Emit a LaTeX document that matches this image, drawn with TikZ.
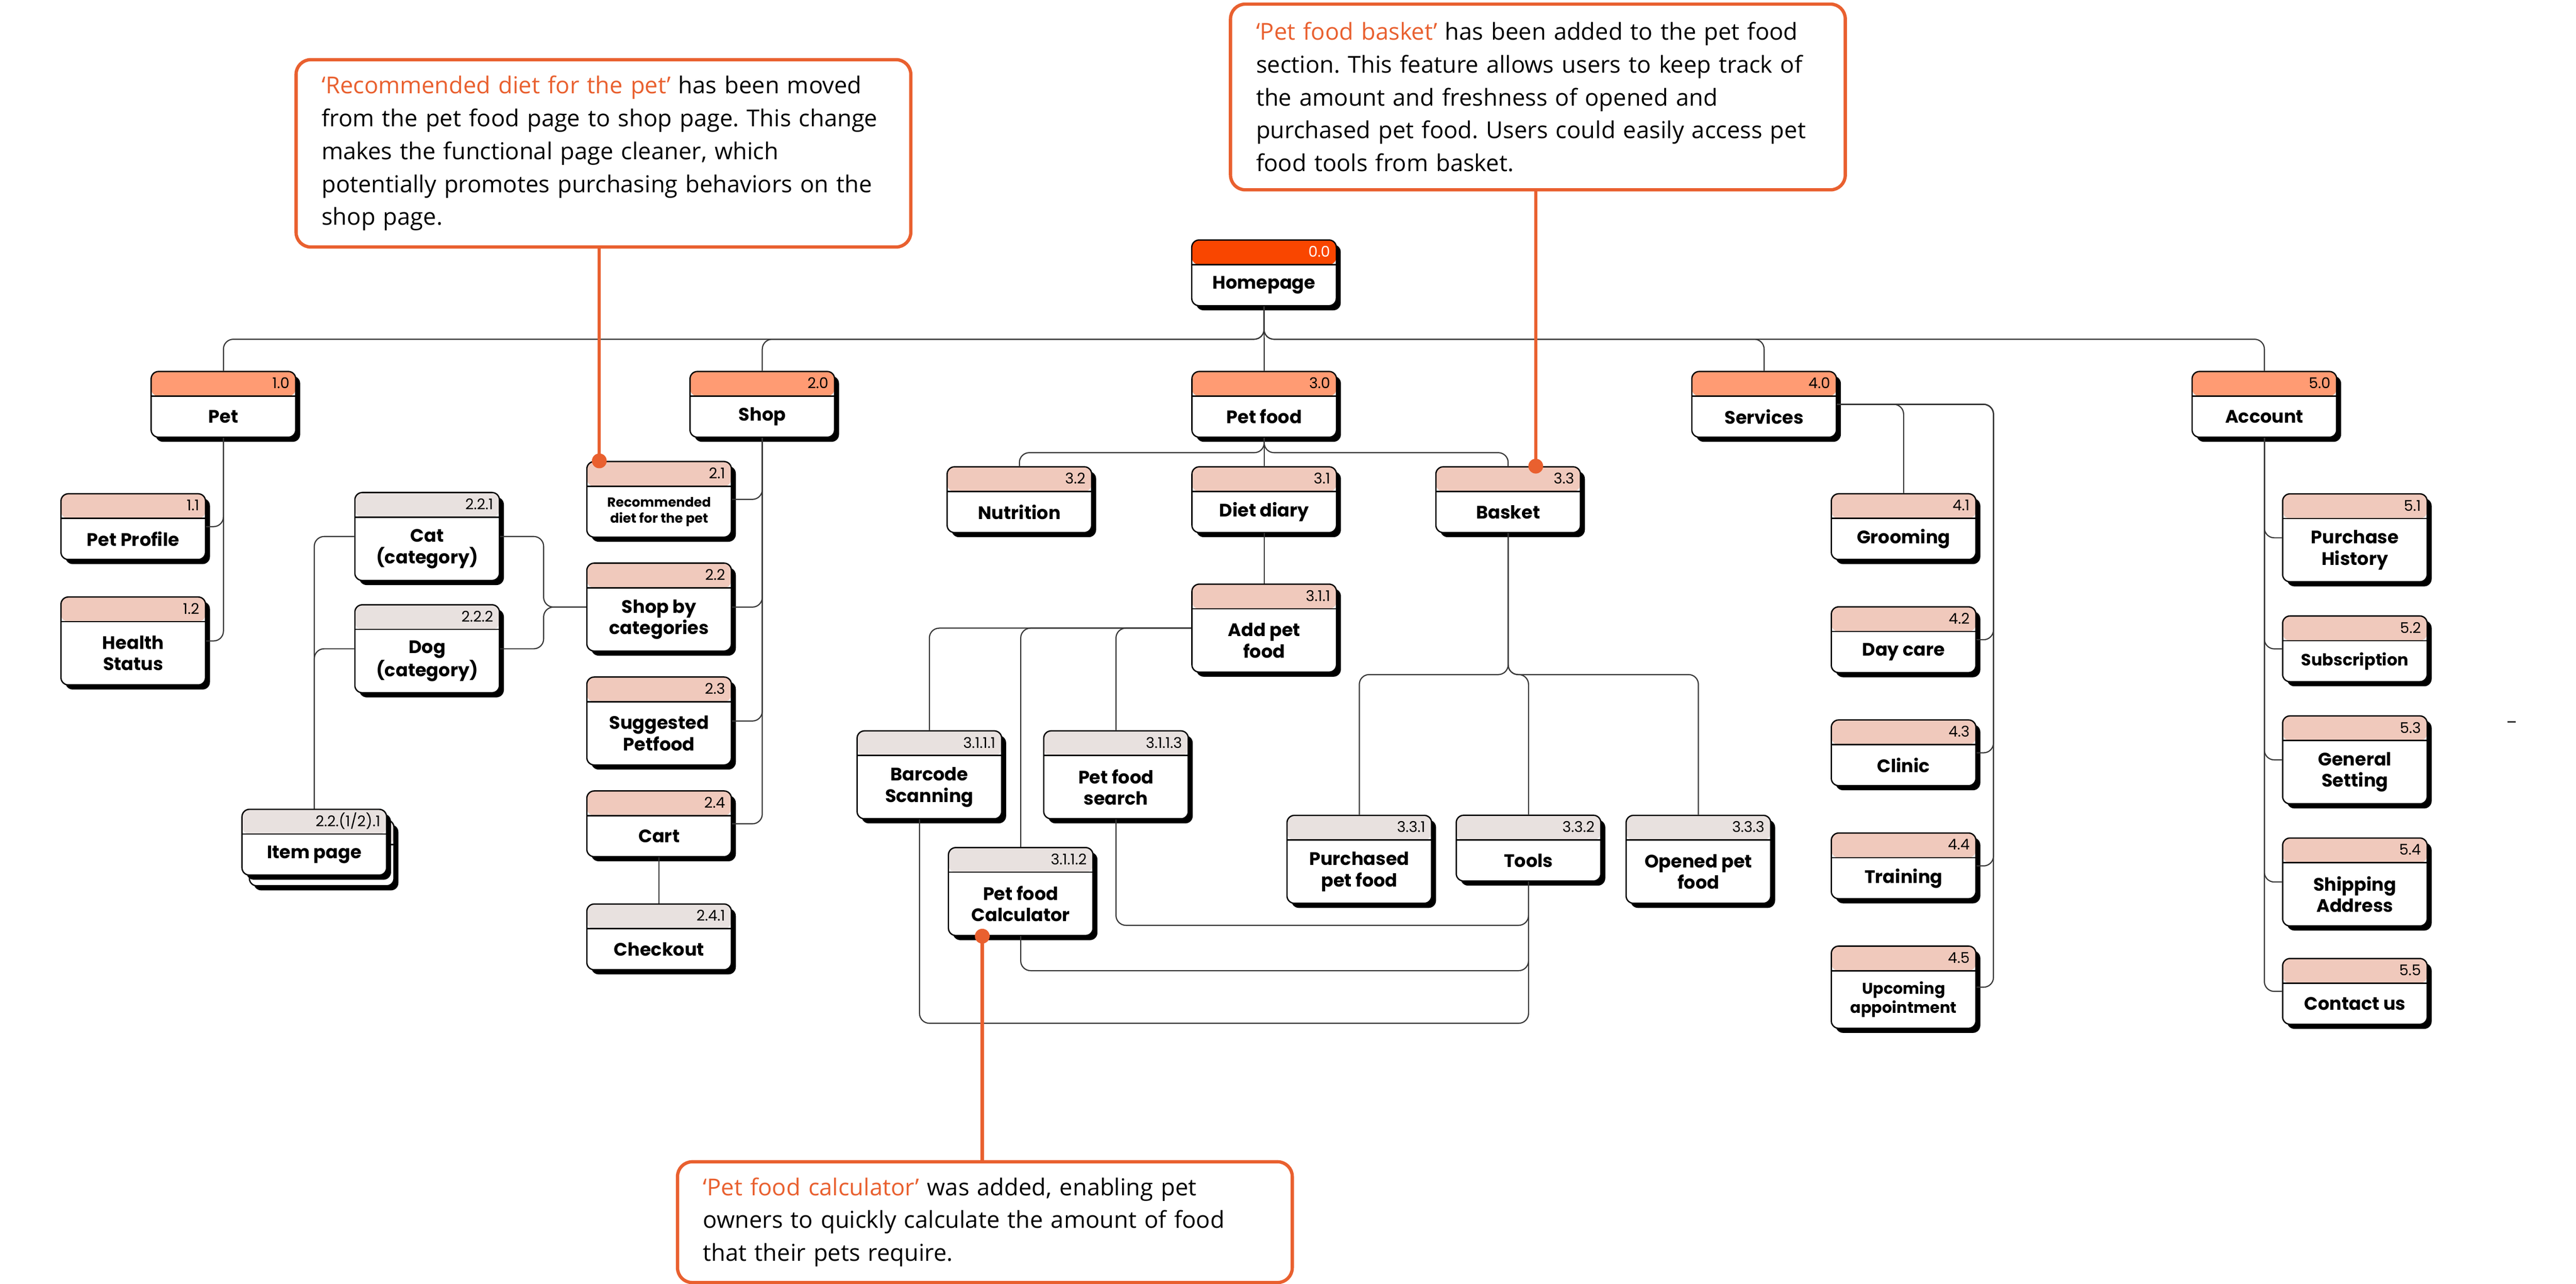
\documentclass[tikz,border=0pt]{standalone}
\usepackage{fontspec}
\setmainfont{Poppins}
\newfontfamily\notefamily{Open Sans}
\usetikzlibrary{positioning, shadows}
\definecolor{HomeRed}{RGB}{249,70,0}
\definecolor{LevelOne}{RGB}{255,155,115}
\definecolor{LevelTwo}{RGB}{240,201,188}
\definecolor{LevelThree}{RGB}{232,225,223}
\definecolor{NoteOrange}{RGB}{233,96,47}
\definecolor{LinkGray}{RGB}{55,55,55}

\newcommand{\cardfont}{\fontsize{11}{13}\selectfont\bfseries}
\newcommand{\smallcardfont}{\fontsize{8}{9.7}\selectfont\bfseries}
\newcommand{\midcardfont}{\fontsize{9.5}{11.5}\selectfont\bfseries}
\newcommand{\subcardfont}{\fontsize{10}{12}\selectfont\bfseries}
\newcommand{\numfont}{\fontsize{9}{10}\selectfont}
\newcommand{\notefont}{\notefamily\fontsize{14.2}{20}\selectfont\frenchspacing}
\newcommand{\notehl}[1]{\textcolor{NoteOrange}{#1}}

\tikzset{
  head/.style = {path picture = {%
    \fill [#1] (path picture bounding box.north west) rectangle ([yshift = -15pt]path picture bounding box.north east);%
    \draw [line width = 0.8pt] ([yshift = -15pt]path picture bounding box.north west) -- ([yshift = -15pt]path picture bounding box.north east);}},
}

% page card: [text options]{name}{card options}{number}{text}
\newcommand{\pagecard}[5][]{%
  \node [card, #3] (#2) {};%
  \node [cardtext, #1] (#2-t) at ([yshift = -7.5pt]#2.center) {#5};%
  \node [cardnum] (#2-n) at ([xshift = -4pt, yshift = -7.5pt]#2.north east) {#4};%
}

\begin{document}
\begin{tikzpicture}[x = 1pt, y = -1pt]%
    %
    \tikzstyle{card} = [rectangle, draw = black, line width = 0.8pt, fill = white, rounded corners = 4.5pt, minimum width = 88pt, minimum height = 40pt, inner sep = 0pt, drop shadow = {shadow xshift = 2.7pt, shadow yshift = -2.8pt, fill = black, opacity = 1}]%
    \tikzstyle{tall} = [minimum height = 53.5pt]%
    \tikzstyle{lvlzero} = [head = HomeRed]%
    \tikzstyle{lvlone} = [head = LevelOne]%
    \tikzstyle{lvltwo} = [head = LevelTwo]%
    \tikzstyle{lvlthree} = [head = LevelThree]%
    \tikzstyle{cardtext} = [align = center, font = \cardfont, inner sep = 0pt]%
    \tikzstyle{cardnum} = [anchor = east, font = \numfont, inner sep = 0pt]%
    \tikzstyle{link} = [draw = LinkGray, line width = 0.7pt, rounded corners = 6pt]%
    \tikzstyle{note} = [rectangle, draw = NoteOrange, line width = 2pt, fill = white, rounded corners = 9pt, anchor = north west, text width = 343pt, inner xsep = 15.6pt, inner ysep = 0pt, minimum height = 114pt, align = left, font = \notefont]%
    \tikzstyle{pin} = [draw = NoteOrange, line width = 2pt]%
    %
    \useasboundingbox (0,0) rectangle (1568,781);%
    %
    \pagecard{home}{lvlzero, at = {(769.4,166)}}{\color{white}0.0}{Homepage}%
    \pagecard{pet}{lvlone, at = {(136,246)}}{1.0}{Pet}%
    \pagecard{shop}{lvlone, at = {(464,246)}}{2.0}{Shop}%
    \pagecard{petfood}{lvlone, at = {(769.5,246)}}{3.0}{Pet food}%
    \pagecard{services}{lvlone, at = {(1073.8,246)}}{4.0}{Services}%
    \pagecard{account}{lvlone, at = {(1378.3,246)}}{5.0}{Account}%
    %
    \pagecard{profile}{lvltwo, at = {(81.1,320.4)}}{1.1}{Pet Profile}%
    \pagecard{health}{lvltwo, tall, below = 22pt of profile}{1.2}{Health\\Status}%
    %
    \pagecard[font = \smallcardfont]{recdiet}{lvltwo, minimum height = 46pt, at = {(401.2,303.8)}}{2.1}{Recommended\\diet for the pet}%
    \pagecard{shopcat}{lvltwo, tall, below = 15pt of recdiet}{2.2}{Shop by\\categories}%
    \pagecard{suggested}{lvltwo, tall, below = 15pt of shopcat}{2.3}{Suggested\\Petfood}%
    \pagecard{cart}{lvltwo, below = 15pt of suggested}{2.4}{Cart}%
    \pagecard{checkout}{lvlthree, below = 28pt of cart}{2.4.1}{Checkout}%
    \pagecard{cat}{lvlthree, tall, at = {(260,326.4)}}{2.2.1}{Cat\\(category)}%
    \pagecard{dog}{lvlthree, tall, below = 14pt of cat}{2.2.2}{Dog\\(category)}%
    \node [card, lvlthree, at = {(195.8,518.9)}] (itemback) {};%
    \pagecard{item}{lvlthree, at = {(191.3,512.4)}}{2.2.(1/2).1}{Item page}%
    %
    \pagecard{nutrition}{lvltwo, at = {(620.5,304)}}{3.2}{Nutrition}%
    \pagecard{diary}{lvltwo, at = {(769.5,304)}}{3.1}{Diet diary}%
    \pagecard{basket}{lvltwo, at = {(918,304)}}{3.3}{Basket}%
    \pagecard{addfood}{lvltwo, tall, below = 30.6pt of diary}{3.1.1}{Add pet\\food}%
    \pagecard{barcode}{lvlthree, tall, at = {(565.7,471.4)}}{3.1.1.1}{Barcode\\Scanning}%
    \pagecard{search}{lvlthree, tall, at = {(679.3,471.4)}}{3.1.1.3}{Pet food\\search}%
    \pagecard{calc}{lvlthree, tall, at = {(621.3,542.4)}}{3.1.1.2}{Pet food\\Calculator}%
    \pagecard{purchased}{lvlthree, tall, at = {(827.4,522.8)}}{3.3.1}{Purchased\\pet food}%
    \pagecard{tools}{lvlthree, at = {(930.4,516)}}{3.3.2}{Tools}%
    \pagecard{opened}{lvlthree, tall, at = {(1033.8,522.8)}}{3.3.3}{Opened pet\\food}%
    %
    \pagecard{grooming}{lvltwo, at = {(1158.7,320.4)}}{4.1}{Grooming}%
    \pagecard{daycare}{lvltwo, below = 28pt of grooming}{4.2}{Day care}%
    \pagecard{clinic}{lvltwo, below = 28pt of daycare}{4.3}{Clinic}%
    \pagecard{training}{lvltwo, below = 28pt of clinic}{4.4}{Training}%
    \pagecard[font = \midcardfont]{upcoming}{lvltwo, minimum height = 50pt, below = 28pt of training}{4.5}{Upcoming\\appointment}%
    %
    \pagecard{purchase}{lvltwo, tall, at = {(1433.4,327.2)}}{5.1}{Purchase\\History}%
    \pagecard[font = \subcardfont]{subscription}{lvltwo, below = 20pt of purchase}{5.2}{Subscription}%
    \pagecard{general}{lvltwo, tall, below = 20pt of subscription}{5.3}{General\\Setting}%
    \pagecard{shipping}{lvltwo, tall, below = 20pt of general}{5.4}{Shipping\\Address}%
    \pagecard{contact}{lvltwo, below = 19pt of shipping}{5.5}{Contact us}%
    %
    \draw [link] (home.south) -- ++(0,20) -| (pet.north);%
    \draw [link] (home.south) -- ++(0,20) -| (shop.north);%
    \draw [link] (home.south) -- (petfood.north);%
    \draw [link] (home.south) -- ++(0,20) -| (services.north);%
    \draw [link] (home.south) -- ++(0,20) -| (account.north);%
    %
    \draw [link] (pet.south) |- (profile.east);%
    \draw [link] (pet.south) |- (health.east);%
    %
    \draw [link] (shop.south) |- (recdiet.east);%
    \draw [link] (shop.south) |- (shopcat.east);%
    \draw [link] (shop.south) |- (suggested.east);%
    \draw [link] (shop.south) |- (cart.east);%
    \draw [link] (cart.south) -- (checkout.north);%
    \draw [link] (shopcat.west) -- ++(-25.9,0) |- (cat.east);%
    \draw [link] (shopcat.west) -- ++(-25.9,0) |- (dog.east);%
    \draw [link] (cat.west) -| (item.north);%
    \draw [link] (dog.west) -| (item.north);%
    %
    \draw [link] (petfood.south) -- ++(0,9) -| (nutrition.north);%
    \draw [link] (petfood.south) -- (diary.north);%
    \draw [link] (petfood.south) -- ++(0,9) -| (basket.north);%
    \draw [link] (diary.south) -- (addfood.north);%
    \draw [link] (addfood.west) -| (barcode.north);%
    \draw [link] (addfood.west) -| (calc.north);%
    \draw [link] (addfood.west) -| (search.north);%
    \draw [link] ([xshift = -6pt]barcode.south) -- ++(0,124) -| (tools.south);%
    \draw [link] (calc.south) -- ++(0,21) -| (tools.south);%
    \draw [link] (search.south) -- ++(0,64.4) -| (tools.south);%
    \draw [link] (basket.south) -- ++(0,86) -| (purchased.north);%
    \draw [link] (basket.south) -- ++(0,86) -| (tools.north);%
    \draw [link] (basket.south) -- ++(0,86) -| (opened.north);%
    %
    \draw [link] (services.east) -| (grooming.north);%
    \draw [link] (services.east) -- ++(95.2,0) |- (daycare.east);%
    \draw [link] (services.east) -- ++(95.2,0) |- (clinic.east);%
    \draw [link] (services.east) -- ++(95.2,0) |- (training.east);%
    \draw [link] (services.east) -- ++(95.2,0) |- (upcoming.east);%
    %
    \draw [link] (account.south) |- (purchase.west);%
    \draw [link] (account.south) |- (subscription.west);%
    \draw [link] (account.south) |- (general.west);%
    \draw [link] (account.south) |- (shipping.west);%
    \draw [link] (account.south) |- (contact.west);%
    %
    \draw [link] (1526.2,439.2) -- (1531.4,439.2);%
    %
    \node [note, at = {(179.2,35.3)}] (note-diet) {\notehl{‘Recommended diet for the pet’} has been moved\\from the pet food page to shop page. This change\\makes the functional page cleaner, which\\potentially promotes purchasing behaviors on the\\shop page.};%
    \node [note, minimum height = 113pt, at = {(748,1.5)}] (note-basket) {\notehl{‘Pet food basket’} has been added to the pet food\\section. This feature allows users to keep track of\\the amount and freshness of opened and\\purchased pet food. Users could easily access pet\\food tools from basket.};%
    \node [note, minimum height = 73.5pt, at = {(411.4,705.8)}] (note-calc) {\notehl{‘Pet food calculator’} was added, enabling pet\\owners to quickly calculate the amount of food\\that their pets require.};%
    %
    \coordinate (diet-pin) at ([xshift = 8pt]recdiet.north west);%
    \coordinate (basket-pin) at ([xshift = -27.6pt]basket.north east);%
    \coordinate (calc-pin) at ([xshift = 21pt]calc.south west);%
    \draw [pin] (note-diet.south -| diet-pin) -- (diet-pin);%
    \draw [pin] (note-basket.south -| basket-pin) -- (basket-pin);%
    \draw [pin] (calc-pin) -- (calc-pin |- note-calc.north);%
    \fill [NoteOrange] (diet-pin) circle (4.5pt);%
    \fill [NoteOrange] (basket-pin) circle (4.5pt);%
    \fill [NoteOrange] (calc-pin) circle (4.5pt);%
    %
\end{tikzpicture}
\end{document}
